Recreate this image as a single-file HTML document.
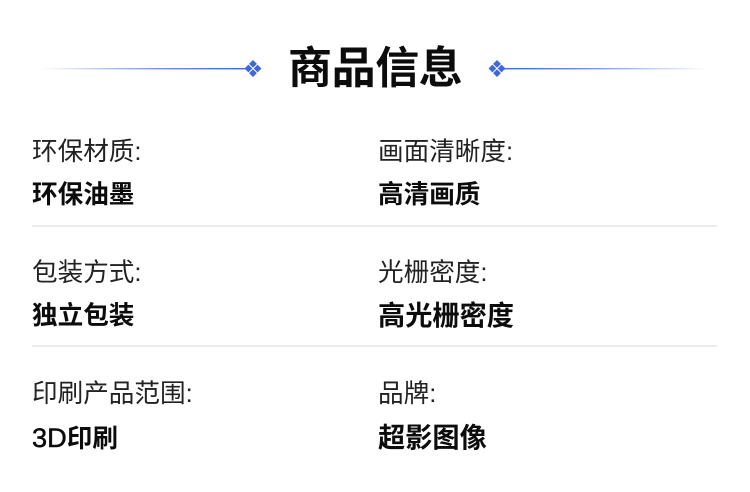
<!DOCTYPE html>
<html lang="zh">
<head>
<meta charset="utf-8">
<style>
html,body{margin:0;padding:0;background:#fff}
body{position:relative;width:750px;height:492px;overflow:hidden;font-family:"Liberation Sans","Noto Sans CJK SC",sans-serif;color:#111}
div{position:absolute;white-space:nowrap}
.t{font-size:44px;font-weight:700;left:288px;top:37px;line-height:64px;color:#0c0c0c;letter-spacing:-.4px}
.l,.v{font-size:25.6px;line-height:36px}
.l{font-weight:400;color:#222}
.v{font-weight:700;color:#0c0c0c}
.big{font-size:27.2px}
.hr{left:32px;width:685px;height:2px;background:#ececec}
.a{left:32px}.b{left:378px}
svg{position:absolute;left:0;top:0}
</style>
</head>
<body>
<svg width="750" height="492" viewBox="0 0 750 492">
<defs>
<linearGradient id="g1" x1="0" x2="1" y1="0" y2="0"><stop offset="0" stop-color="#3f68d8" stop-opacity="0"/><stop offset=".65" stop-color="#3f68d8" stop-opacity=".8"/><stop offset="1" stop-color="#3f68d8"/></linearGradient>
<linearGradient id="g2" x1="1" x2="0" y1="0" y2="0"><stop offset="0" stop-color="#3f68d8" stop-opacity="0"/><stop offset=".65" stop-color="#3f68d8" stop-opacity=".8"/><stop offset="1" stop-color="#3f68d8"/></linearGradient>
</defs>
<rect x="40" y="68" width="208" height="1.4" fill="url(#g1)"/>
<rect x="500" y="68" width="208" height="1.4" fill="url(#g2)"/>
<g fill="#3f68d8">
<path d="M253 60l3.9 3.9-3.9 3.9-3.9-3.9zM253 69.2l3.9 3.9-3.9 3.9-3.9-3.9zM248.4 64.6l3.9 3.9-3.9 3.9-3.9-3.9zM257.6 64.6l3.9 3.9-3.9 3.9-3.9-3.9z"/>
<path d="M497 60l3.9 3.9-3.9 3.9-3.9-3.9zM497 69.2l3.9 3.9-3.9 3.9-3.9-3.9zM492.4 64.6l3.9 3.9-3.9 3.9-3.9-3.9zM501.6 64.6l3.9 3.9-3.9 3.9-3.9-3.9z"/>
</g>
</svg>
<div class="t">商品信息</div>

<div class="l a" style="top:134px">环保材质:</div>
<div class="l b" style="top:134px">画面清晰度:</div>
<div class="v a" style="top:177px">环保油墨</div>
<div class="v b" style="top:177px">高清画质</div>
<div class="hr" style="top:225px"></div>

<div class="l a" style="top:255px">包装方式:</div>
<div class="l b" style="top:255px">光栅密度:</div>
<div class="v a" style="top:298px">独立包装</div>
<div class="v big b" style="top:298px">高光栅密度</div>
<div class="hr" style="top:345px"></div>

<div class="l a" style="top:376px">印刷产品范围:</div>
<div class="l b" style="top:376px">品牌:</div>
<div class="v a" style="top:420px"><span style="font-size:27.2px;font-weight:400;-webkit-text-stroke:.5px #0c0c0c">3D</span>印刷</div>
<div class="v big b" style="top:420px">超影图像</div>
</body>
</html>
